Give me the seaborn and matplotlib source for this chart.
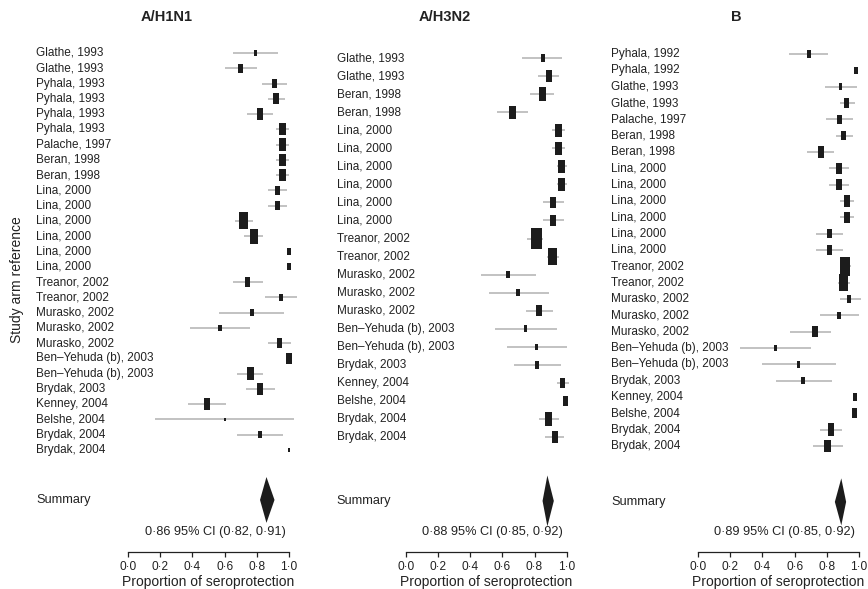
import numpy as np
import pandas as pd
import seaborn as sns
import matplotlib
matplotlib.use("Agg")
import matplotlib.pyplot as plt
from matplotlib.path import Path

sns.set_style("white")
plt.rcParams['font.family'] = ['Liberation Sans', 'DejaVu Sans']
plt.rcParams['text.color'] = '#222222'

# ---------------- data ----------------
tick_vals = [0.0, 0.2, 0.4, 0.6, 0.8, 1.0]
tick_labels = ['0·0', '0·2', '0·4', '0·6', '0·8', '1·0']

h1n1_study = ['Glathe, 1993', 'Glathe, 1993', 'Pyhala, 1993', 'Pyhala, 1993', 'Pyhala, 1993',
              'Pyhala, 1993', 'Palache, 1997', 'Beran, 1998', 'Beran, 1998', 'Lina, 2000',
              'Lina, 2000', 'Lina, 2000', 'Lina, 2000', 'Lina, 2000', 'Lina, 2000',
              'Treanor, 2002', 'Treanor, 2002', 'Murasko, 2002', 'Murasko, 2002', 'Murasko, 2002',
              'Ben–Yehuda (b), 2003', 'Ben–Yehuda (b), 2003', 'Brydak, 2003', 'Kenney, 2004',
              'Belshe, 2004', 'Brydak, 2004', 'Brydak, 2004']
h1n1_est = [0.79, 0.70, 0.91, 0.92, 0.82, 0.96, 0.96, 0.96, 0.96, 0.93, 0.93, 0.72, 0.78, 1.00,
            1.00, 0.74, 0.95, 0.77, 0.57, 0.94, 1.00, 0.76, 0.82, 0.49, 0.60, 0.82, 1.00]
h1n1_lo = [0.65, 0.60, 0.83, 0.87, 0.74, 0.92, 0.92, 0.92, 0.92, 0.87, 0.87, 0.665, 0.72, 0.995,
           0.995, 0.65, 0.85, 0.565, 0.385, 0.87, 0.98, 0.675, 0.73, 0.37, 0.17, 0.675, 0.997]
h1n1_hi = [0.93, 0.80, 0.99, 0.975, 0.90, 1.00, 1.00, 1.00, 1.00, 0.99, 0.99, 0.775, 0.84, 1.0,
           1.0, 0.84, 1.05, 0.97, 0.755, 1.01, 1.005, 0.84, 0.91, 0.61, 1.03, 0.965, 1.0]
h1n1_weight = [9, 25, 20, 36, 36, 42, 42, 42, 42, 25, 25, 81, 64, 12, 12, 25, 12, 12, 12, 25,
               36, 49, 36, 36, 4, 12, 4]

h3n2_study = ['Glathe, 1993', 'Glathe, 1993', 'Beran, 1998', 'Beran, 1998', 'Lina, 2000',
              'Lina, 2000', 'Lina, 2000', 'Lina, 2000', 'Lina, 2000', 'Lina, 2000',
              'Treanor, 2002', 'Treanor, 2002', 'Murasko, 2002', 'Murasko, 2002', 'Murasko, 2002',
              'Ben–Yehuda (b), 2003', 'Ben–Yehuda (b), 2003', 'Brydak, 2003', 'Kenney, 2004',
              'Belshe, 2004', 'Brydak, 2004', 'Brydak, 2004']
h3n2_est = [0.85, 0.89, 0.85, 0.665, 0.95, 0.95, 0.97, 0.97, 0.915, 0.915, 0.81, 0.91, 0.635,
            0.70, 0.83, 0.745, 0.815, 0.815, 0.975, 0.995, 0.89, 0.925]
h3n2_lo = [0.72, 0.82, 0.775, 0.57, 0.91, 0.91, 0.94, 0.94, 0.85, 0.85, 0.755, 0.875, 0.465,
           0.515, 0.745, 0.555, 0.63, 0.675, 0.94, 0.985, 0.83, 0.865]
h3n2_hi = [0.97, 0.955, 0.92, 0.76, 0.99, 0.99, 1.0, 1.0, 0.985, 0.985, 0.855, 0.95, 0.81,
           0.89, 0.915, 0.94, 1.0, 0.965, 1.015, 1.005, 0.95, 0.985]
h3n2_weight = [16, 36, 49, 49, 49, 49, 49, 49, 36, 36, 121, 81, 16, 16, 36, 12, 9, 16, 25, 25,
               49, 36]

b_study = ['Pyhala, 1992', 'Pyhala, 1992', 'Glathe, 1993', 'Glathe, 1993', 'Palache, 1997',
           'Beran, 1998', 'Beran, 1998', 'Lina, 2000', 'Lina, 2000', 'Lina, 2000', 'Lina, 2000',
           'Lina, 2000', 'Lina, 2000', 'Treanor, 2002', 'Treanor, 2002', 'Murasko, 2002',
           'Murasko, 2002', 'Murasko, 2002', 'Ben–Yehuda (b), 2003', 'Ben–Yehuda (b), 2003',
           'Brydak, 2003', 'Kenney, 2004', 'Belshe, 2004', 'Brydak, 2004', 'Brydak, 2004']
b_est = [0.69, 0.98, 0.885, 0.925, 0.88, 0.905, 0.765, 0.875, 0.875, 0.925, 0.925, 0.815,
         0.815, 0.915, 0.905, 0.94, 0.875, 0.725, 0.48, 0.625, 0.655, 0.975, 0.975, 0.825, 0.805]
b_lo = [0.565, 0.975, 0.79, 0.88, 0.795, 0.855, 0.68, 0.815, 0.815, 0.885, 0.885, 0.73, 0.73,
        0.89, 0.87, 0.88, 0.755, 0.57, 0.26, 0.40, 0.485, 0.965, 0.965, 0.76, 0.715]
b_hi = [0.81, 0.985, 0.985, 0.975, 0.96, 0.96, 0.845, 0.935, 0.935, 0.97, 0.97, 0.90, 0.90,
        0.95, 0.945, 1.01, 1.0, 0.825, 0.70, 0.855, 0.83, 0.985, 0.985, 0.895, 0.90]
b_weight = [16, 16, 12, 25, 20, 25, 36, 36, 36, 36, 36, 25, 25, 100, 81, 16, 12, 36, 9, 12,
            16, 20, 25, 42, 42]

titles = ['A/H1N1', 'A/H3N2', 'B']
summary_est = [0.86, 0.88, 0.89]
summary_lo = [0.82, 0.85, 0.85]
summary_hi = [0.91, 0.92, 0.92]

# ---------------- layout ----------------
W, H = 868, 589
panels = [
    dict(study=h1n1_study, est=h1n1_est, lo=h1n1_lo, hi=h1n1_hi, w=h1n1_weight,
         left=128, lab_x=-0.571, ylim=(32.68, -0.85), sum_y=29.27, dh=1.5),
    dict(study=h3n2_study, est=h3n2_est, lo=h3n2_lo, hi=h3n2_hi, w=h3n2_weight,
         left=405.7, lab_x=-0.429, ylim=(27.37, -1.0), sum_y=24.54, dh=1.41),
    dict(study=b_study, est=b_est, lo=b_lo, hi=b_hi, w=b_weight,
         left=698, lab_x=-0.54, ylim=(30.5, -0.86), sum_y=27.43, dh=1.44),
]

box = Path([(-0.5, -0.95), (0.5, -0.95), (0.5, 0.95), (-0.5, 0.95), (-0.5, -0.95)],
           [Path.MOVETO, Path.LINETO, Path.LINETO, Path.LINETO, Path.CLOSEPOLY])

fig = plt.figure(figsize=(W / 100, H / 100), dpi=100)
ax_bottom, ax_top = 552, 40

for k, p in enumerate(panels):
    ax = fig.add_axes([p['left'] / W, (H - ax_bottom) / H, 161 / W, (ax_bottom - ax_top) / H])
    df = pd.DataFrame({'study': p['study'], 'est': p['est'], 'lo': p['lo'],
                       'hi': p['hi'], 'weight': p['w']})
    df['row'] = np.arange(len(df))

    ax.hlines(df['row'], df['lo'], df['hi'], color='#c2c2c2', lw=1.4, zorder=1, clip_on=False)
    sns.scatterplot(data=df, x='est', y='row', size='weight', sizes=(0, 187 * 1.3),
                    size_norm=(0, 130), marker=box, color='#1c1c1c', linewidth=0,
                    legend=False, ax=ax, zorder=3, clip_on=False)

    for _, r in df.iterrows():
        ax.text(p['lab_x'], r['row'], r['study'], fontsize=8.5, va='center', ha='left',
                clip_on=False)

    ys = p['sum_y']
    ax.fill([summary_lo[k], summary_est[k], summary_hi[k], summary_est[k]],
            [ys, ys - p['dh'], ys, ys + p['dh']], color='#1c1c1c', lw=0, clip_on=False)
    ax.text(p['lab_x'], ys, 'Summary', fontsize=9.2, va='center', ha='left')
    ax.text(0.54, (ax_bottom - 532) / (ax_bottom - ax_top),
            f"{summary_est[k]:.2f} 95% CI ({summary_lo[k]:.2f}, {summary_hi[k]:.2f})".replace('.', '·'),
            transform=ax.get_xaxis_transform(), fontsize=9.2, ha='center', va='center')

    ax.text(0.24, (ax_bottom - 17) / (ax_bottom - ax_top), titles[k],
            transform=ax.get_xaxis_transform(), fontsize=10.5, fontweight='bold',
            ha='center', va='center')
    ax.text(0.5, (ax_bottom - 582) / (ax_bottom - ax_top), 'Proportion of seroprotection',
            transform=ax.get_xaxis_transform(), fontsize=10, ha='center', va='center')

    ax.set_xlim(0, 1)
    ax.set_ylim(*p['ylim'])
    ax.set_xticks(tick_vals)
    ax.set_xticklabels(tick_labels, fontsize=8.6)
    ax.set_yticks([])
    ax.set_xlabel('')
    ax.set_ylabel('')
    ax.tick_params(axis='x', direction='out', length=3.8, width=0.9, pad=2.5,
                   colors='#222222', bottom=True)
    for s in ['top', 'right', 'left']:
        ax.spines[s].set_visible(False)
    ax.spines['bottom'].set_bounds(0, 1)
    ax.spines['bottom'].set_color('#222222')
    ax.spines['bottom'].set_linewidth(0.9)
    ax.patch.set_alpha(0)

fig.text(17 / W, 1 - 280 / H, 'Study arm reference', rotation=90, fontsize=10,
         ha='center', va='center')

fig.savefig('out.png', dpi=100)
